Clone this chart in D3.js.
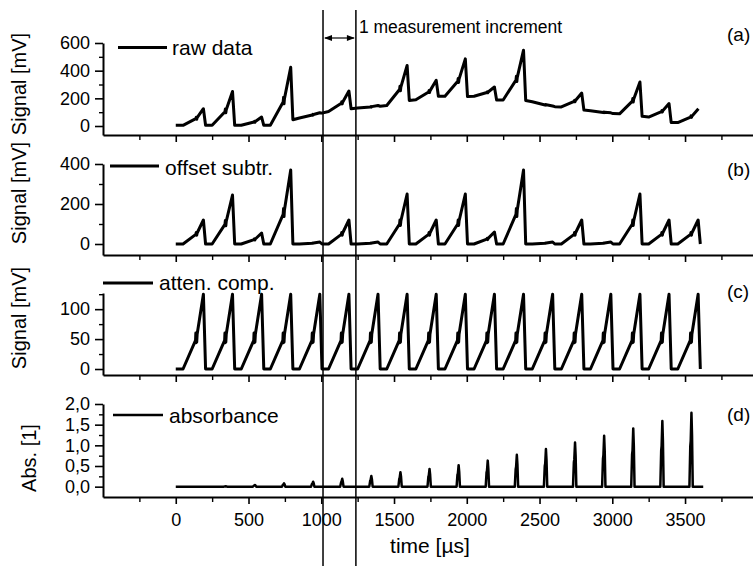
<!DOCTYPE html>
<html>
<head>
<meta charset="utf-8">
<script src="https://cdn.jsdelivr.net/npm/d3@7"></script>
<style>
  body { margin: 0; background: #fff; }
  text { font-family: Arial, 'Liberation Sans', sans-serif; fill: #000; }
</style>
</head>
<body>
<svg id="chart" width="753" height="566"></svg>
<script>
// values: [time in us, value]
const rawData = [
  [0,5],[50,5],[138,53],[141,63],[144,49],[147,60],[190,125],[205,5],
  [250,5],[338,103],[341,123],[344,96],[347,118],[390,250],[405,5],
  [450,5],[538,29],[541,34],[544,27],[547,33],[590,65],[605,5],
  [650,5],[738,173],[741,207],[744,160],[747,198],[790,425],[805,45],
  [850,58],[938,80],[941,84],[944,79],[947,83],[990,96],[1005,93],
  [1050,105],[1138,164],[1141,176],[1144,160],[1147,172],[1190,253],[1205,125],
  [1250,130],[1338,138],[1341,141],[1344,137],[1347,140],[1390,148],[1405,143],
  [1450,148],[1538,264],[1541,287],[1544,255],[1547,281],[1590,438],[1605,185],
  [1650,190],[1738,246],[1741,257],[1744,242],[1747,254],[1790,330],[1805,215],
  [1850,215],[1938,323],[1941,344],[1944,315],[1947,339],[1990,485],[2005,213],
  [2050,215],[2138,242],[2141,247],[2144,240],[2147,246],[2190,282],[2205,188],
  [2250,188],[2338,332],[2341,360],[2344,321],[2347,352],[2390,548],[2405,185],
  [2450,175],[2538,152],[2541,155],[2544,151],[2547,154],[2590,145],[2605,140],
  [2650,138],[2738,178],[2741,186],[2744,175],[2747,184],[2790,238],[2805,115],
  [2850,110],[2938,98],[2941,101],[2944,97],[2947,100],[2990,95],[3005,90],
  [3050,88],[3138,180],[3141,198],[3144,173],[3147,194],[3190,318],[3205,70],
  [3250,65],[3338,104],[3341,112],[3344,101],[3347,110],[3390,162],[3405,25],
  [3450,25],[3538,65],[3541,73],[3544,62],[3547,71],[3592,125]
];

const offsetSubtr = [
  [0,0],[50,0],[138,48],[141,58],[144,44],[147,55],[190,120],[205,0],
  [250,0],[338,98],[341,118],[344,91],[347,113],[390,245],[405,0],
  [450,0],[538,22],[541,26],[544,20],[547,25],[590,55],[605,0],
  [650,0],[738,148],[741,178],[744,137],[747,170],[790,370],[805,0],
  [850,0],[938,4],[941,5],[944,4],[947,5],[990,10],[1005,0],
  [1050,0],[1138,48],[1141,58],[1144,44],[1147,55],[1190,120],[1205,0],
  [1250,0],[1338,4],[1341,5],[1344,4],[1347,5],[1390,10],[1405,0],
  [1450,0],[1538,100],[1541,120],[1544,93],[1547,115],[1590,250],[1605,0],
  [1650,0],[1738,48],[1741,58],[1744,44],[1747,55],[1790,120],[1805,0],
  [1850,0],[1938,100],[1941,120],[1944,93],[1947,115],[1990,250],[2005,0],
  [2050,0],[2138,24],[2141,29],[2144,22],[2147,28],[2190,60],[2205,0],
  [2250,0],[2338,148],[2341,178],[2344,137],[2347,170],[2390,370],[2405,0],
  [2450,0],[2538,4],[2541,5],[2544,4],[2547,5],[2590,10],[2605,0],
  [2650,0],[2738,48],[2741,58],[2744,44],[2747,55],[2790,120],[2805,0],
  [2850,0],[2938,4],[2941,5],[2944,4],[2947,5],[2990,10],[3005,0],
  [3050,0],[3138,100],[3141,120],[3144,93],[3147,115],[3190,250],[3205,0],
  [3250,0],[3338,48],[3341,58],[3344,44],[3347,55],[3390,120],[3405,0],
  [3450,0],[3538,48],[3541,58],[3544,44],[3547,55],[3590,120],[3605,0]
];

const attenComp = [
  [0,0],[50,0],[136,48],[138,60],[140,44],[142,60],[144,45],[147,58],[190,125],[205,0],
  [250,0],[336,48],[338,60],[340,44],[342,60],[344,45],[347,58],[390,125],[405,0],
  [450,0],[536,48],[538,60],[540,44],[542,60],[544,45],[547,58],[590,125],[605,0],
  [650,0],[736,48],[738,60],[740,44],[742,60],[744,45],[747,58],[790,125],[805,0],
  [850,0],[936,48],[938,60],[940,44],[942,60],[944,45],[947,58],[990,125],[1005,0],
  [1050,0],[1136,48],[1138,60],[1140,44],[1142,60],[1144,45],[1147,58],[1190,125],[1205,0],
  [1250,0],[1336,48],[1338,60],[1340,44],[1342,60],[1344,45],[1347,58],[1390,125],[1405,0],
  [1450,0],[1536,48],[1538,60],[1540,44],[1542,60],[1544,45],[1547,58],[1590,125],[1605,0],
  [1650,0],[1736,48],[1738,60],[1740,44],[1742,60],[1744,45],[1747,58],[1790,125],[1805,0],
  [1850,0],[1936,48],[1938,60],[1940,44],[1942,60],[1944,45],[1947,58],[1990,125],[2005,0],
  [2050,0],[2136,48],[2138,60],[2140,44],[2142,60],[2144,45],[2147,58],[2190,125],[2205,0],
  [2250,0],[2336,48],[2338,60],[2340,44],[2342,60],[2344,45],[2347,58],[2390,125],[2405,0],
  [2450,0],[2536,48],[2538,60],[2540,44],[2542,60],[2544,45],[2547,58],[2590,125],[2605,0],
  [2650,0],[2736,48],[2738,60],[2740,44],[2742,60],[2744,45],[2747,58],[2790,125],[2805,0],
  [2850,0],[2936,48],[2938,60],[2940,44],[2942,60],[2944,45],[2947,58],[2990,125],[3005,0],
  [3050,0],[3136,48],[3138,60],[3140,44],[3142,60],[3144,45],[3147,58],[3190,125],[3205,0],
  [3250,0],[3336,48],[3338,60],[3340,44],[3342,60],[3344,45],[3347,58],[3390,125],[3405,0],
  [3450,0],[3536,48],[3538,60],[3540,44],[3542,60],[3544,45],[3547,58],[3590,125],[3605,0]
];

const absorbance = [
  [0,0],
  [330,0],[336,0.006],[339,0.006],[344,0.01],[348,0.007],[353,0],
  [530,0],[536,0.022],[539,0.025],[544,0.04],[548,0.028],[553,0],
  [730,0],[736,0.044],[739,0.05],[744,0.08],[748,0.056],[753,0],
  [930,0],[936,0.066],[939,0.074],[944,0.12],[948,0.084],[953,0],
  [1130,0],[1136,0.10],[1139,0.12],[1144,0.19],[1148,0.13],[1153,0],
  [1330,0],[1336,0.14],[1339,0.16],[1344,0.26],[1348,0.18],[1353,0],
  [1530,0],[1536,0.19],[1539,0.22],[1544,0.35],[1548,0.25],[1553,0],
  [1730,0],[1736,0.24],[1739,0.27],[1744,0.43],[1748,0.30],[1753,0],
  [1930,0],[1936,0.29],[1939,0.32],[1944,0.52],[1948,0.36],[1953,0],
  [2130,0],[2136,0.35],[2139,0.39],[2144,0.63],[2148,0.44],[2153,0],
  [2330,0],[2336,0.42],[2339,0.48],[2344,0.77],[2348,0.54],[2353,0],
  [2530,0],[2536,0.50],[2539,0.56],[2544,0.91],[2548,0.64],[2553,0],
  [2730,0],[2736,0.59],[2739,0.66],[2744,1.07],[2748,0.75],[2753,0],
  [2930,0],[2936,0.68],[2939,0.76],[2944,1.23],[2948,0.86],[2953,0],
  [3130,0],[3136,0.78],[3139,0.87],[3144,1.41],[3148,0.99],[3153,0],
  [3330,0],[3336,0.87],[3339,0.99],[3344,1.59],[3348,1.11],[3353,0],
  [3530,0],[3536,0.98],[3539,1.11],[3544,1.79],[3548,1.25],[3553,0],
  [3625,0]
];

const timeTicks = [0, 500, 1000, 1500, 2000, 2500, 3000, 3500];
const timeMinor = [-250, 250, 750, 1250, 1750, 2250, 2750, 3250, 3750];
const rawTicks = [0, 200, 400, 600];
const rawMinor = [100, 300, 500];
const offTicks = [0, 200, 400];
const offMinor = [100, 300];
const attTicks = [0, 50, 100];
const attMinor = [25, 75, 125];
const absTicks = [0, 0.5, 1.0, 1.5, 2.0];
const absMinor = [0.25, 0.75, 1.25, 1.75];
const increment = [1012, 1238];

const seriesNames = ['raw data', 'offset subtr.', 'atten. comp.', 'absorbance'];
const panelTags = ['(a)', '(b)', '(c)', '(d)'];
const yTitles = ['Signal [mV]', 'Signal [mV]', 'Signal [mV]', 'Abs. [1]'];

const svg = d3.select('#chart');
const x = d3.scaleLinear().domain([-500, 4000]).range([103, 757.8]);
const commaFmt = d3.formatLocale({ decimal: ',', thousands: '.', grouping: [3], currency: ['', ''] }).format('.1f');

const panels = [
  { data: rawData, y: d3.scaleLinear().domain([-65, 600]).range([135, 43]), major: rawTicks, minor: rawMinor,
    fmt: d3.format('d'), lw: 3, leg: [118, 167, 47.5, 172, 55], tag: 41, title: [26, 84] },
  { data: offsetSubtr, y: d3.scaleLinear().domain([-55, 400]).range([255, 164]), major: offTicks, minor: offMinor,
    fmt: d3.format('d'), lw: 3, leg: [110, 159, 166, 165, 175], tag: 176, title: [26, 193] },
  { data: attenComp, y: d3.scaleLinear().domain([-10, 127]).range([375, 293]), major: attTicks, minor: attMinor,
    fmt: d3.format('d'), lw: 3, leg: [103, 153, 283, 159, 289.5], tag: 298, title: [26, 318] },
  { data: absorbance, y: d3.scaleLinear().domain([-0.25, 2.0]).range([497, 404]), major: absTicks, minor: absMinor,
    fmt: commaFmt, lw: 2.5, leg: [113, 163, 415, 169, 422.5], tag: 421, title: [36, 458] }
];

function styleAxis(g, size) {
  g.select('.domain').attr('stroke-width', 2);
  g.selectAll('.tick line').attr('stroke-width', 1.6);
  g.selectAll('.tick text').style('font-size', size + 'px').attr('fill', '#000');
  g.attr('font-family', null);
}

panels.forEach((p, i) => {
  const g = svg.append('g');
  const y0 = p.y.range()[0];

  g.append('path')
    .datum(p.data)
    .attr('d', d3.line().x(d => x(d[0])).y(d => p.y(d[1])))
    .attr('fill', 'none')
    .attr('stroke', '#000')
    .attr('stroke-width', p.lw)
    .attr('stroke-linejoin', 'round');

  const bottom = g.append('g')
    .attr('transform', `translate(0,${y0})`)
    .call(d3.axisBottom(x).tickValues(timeTicks).tickSize(7).tickSizeOuter(0).tickPadding(9)
      .tickFormat(i === 3 ? d3.format('d') : ''));
  styleAxis(bottom, 18);
  const bottomMinor = g.append('g')
    .attr('transform', `translate(0,${y0})`)
    .call(d3.axisBottom(x).tickValues(timeMinor).tickSize(5).tickFormat(''));
  bottomMinor.select('.domain').remove();
  bottomMinor.selectAll('.tick line').attr('stroke-width', 1.4);

  const left = g.append('g')
    .attr('transform', `translate(${x(-500)},0)`)
    .call(d3.axisLeft(p.y).tickValues(p.major).tickSize(8).tickSizeOuter(0).tickPadding(5).tickFormat(p.fmt));
  styleAxis(left, 18);
  const leftMinor = g.append('g')
    .attr('transform', `translate(${x(-500)},0)`)
    .call(d3.axisLeft(p.y).tickValues(p.minor).tickSize(4).tickFormat(''));
  leftMinor.select('.domain').remove();
  leftMinor.selectAll('.tick line').attr('stroke-width', 1.4);

  // legend
  g.append('line')
    .attr('x1', p.leg[0]).attr('x2', p.leg[1])
    .attr('y1', p.leg[2]).attr('y2', p.leg[2])
    .attr('stroke', '#000').attr('stroke-width', p.lw);
  g.append('text')
    .attr('x', p.leg[3]).attr('y', p.leg[4])
    .style('font-size', '21px')
    .text(seriesNames[i]);

  g.append('text')
    .attr('x', 727).attr('y', p.tag)
    .style('font-size', '19px')
    .text(panelTags[i]);

  g.append('text')
    .attr('transform', `translate(${p.title[0]},${p.title[1]}) rotate(-90)`)
    .attr('text-anchor', 'middle')
    .style('font-size', '20px')
    .text(yTitles[i]);
});

svg.append('text')
  .attr('x', 430).attr('y', 553)
  .attr('text-anchor', 'middle')
  .style('font-size', '21px')
  .text('time [µs]');

// measurement increment marker
const mx = increment.map(d => x(d));
svg.selectAll('.incr')
  .data(mx)
  .join('line')
  .attr('class', 'incr')
  .attr('x1', d => d).attr('x2', d => d)
  .attr('y1', 10).attr('y2', 566)
  .attr('stroke', '#000').attr('stroke-width', 1.5);

const ay = 38;
svg.append('line')
  .attr('x1', mx[0] + 2).attr('x2', mx[1] - 2)
  .attr('y1', ay).attr('y2', ay)
  .attr('stroke', '#000').attr('stroke-width', 1.2);
svg.append('path')
  .attr('d', `M${mx[0] + 1},${ay} l8,-3 l0,6 Z M${mx[1] - 1},${ay} l-8,-3 l0,6 Z`)
  .attr('fill', '#000');
svg.append('text')
  .attr('x', mx[1] + 3).attr('y', 33)
  .style('font-size', '17.5px')
  .text('1 measurement increment');
</script>
</body>
</html>
